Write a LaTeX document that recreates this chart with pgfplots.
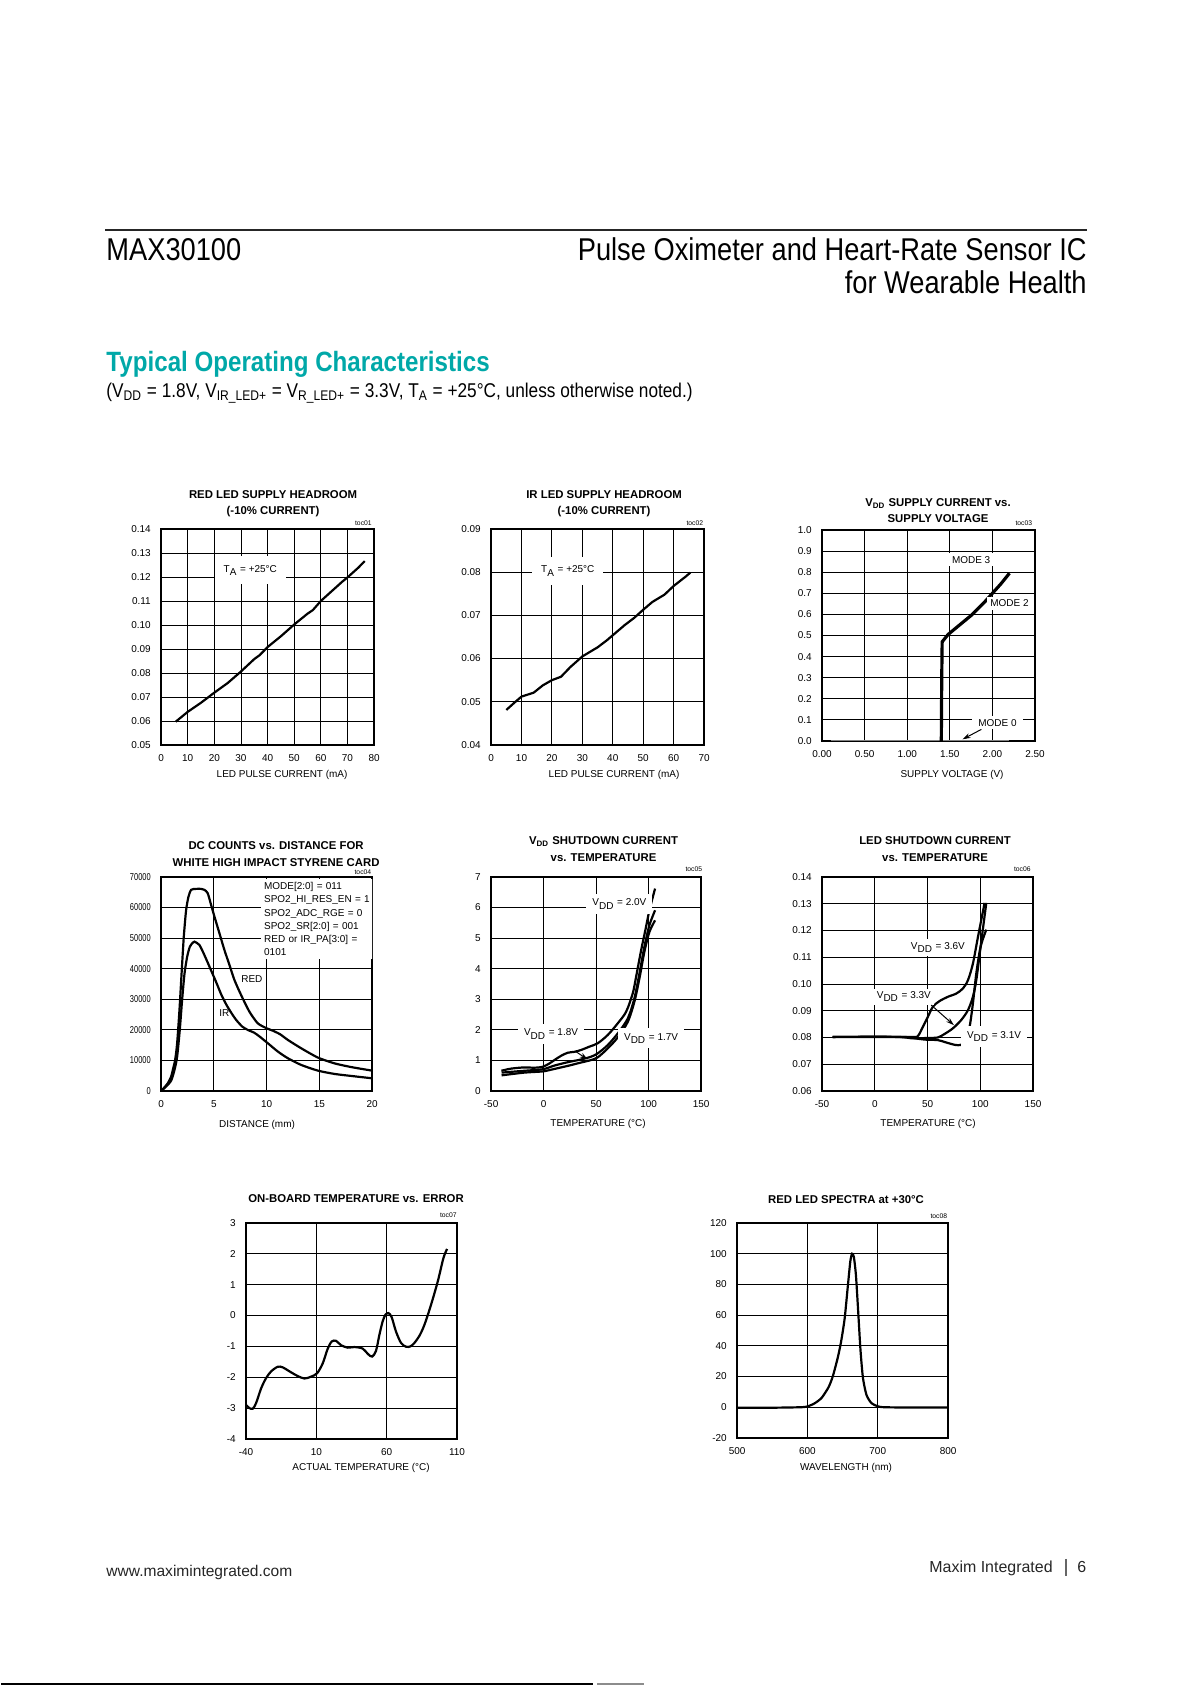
\documentclass[border=0pt]{standalone}
\usepackage{fontspec}
\setmainfont{Liberation Sans}
\newfontfamily\condf{Liberation Sans}[FakeStretch=0.865]
\newfontfamily\narrowf{Liberation Sans}[FakeStretch=0.75]
\usepackage{pgfplots}
\pgfplotsset{compat=1.18}
\usetikzlibrary{arrows.meta}
\definecolor{maxteal}{RGB}{0,168,168}
\newcommand{\fs}[2]{\fontsize{#1}{#2}\selectfont}
\newcommand{\ttl}{\fs{5.7}{8.2}\bfseries}
\newcommand{\sm}{\fs{5}{6}}
\newcommand{\tocf}{\fs{3.4}{4}}
\pgfplotsset{
  toc/.style={
    scale only axis,
    axis line style={line width=1.1pt},
    grid=major,
    major grid style={line width=0.45pt, black},
    major tick length=0pt,
    tick style={draw=none},
    tick label style={font=\sm},
    /pgf/number format/assume math mode=true,
    scaled ticks=false,
    yticklabel style={anchor=east, inner sep=0pt, xshift=-5pt},
    xticklabel style={anchor=north, inner sep=0pt, yshift=-4.6pt},
    cycle list={{black, mark=none, line width=1.1pt}},
    every axis plot/.append style={line width=1.1pt, black, mark=none},
  },
}
\tikzset{lab/.style={fill=white, inner xsep=3pt, inner ysep=2.5pt, font=\sm}}
\begin{document}
\begin{tikzpicture}
\fill[white] (0,0) rectangle (209.97mm,-297.07mm);
\begin{scope}[x=0.1763mm,y=-0.1763mm]
% header
\draw[line width=0.6pt, black!85] (104,230) -- (1086,230);
\node[anchor=base west, inner sep=0pt, font=\condf\fs{15.8}{18}] at (105,261) {MAX30100};
\node[anchor=base east, inner sep=0pt, font=\condf\fs{15.8}{18}] at (1086,261) {Pulse Oximeter and Heart-Rate Sensor IC};
\node[anchor=base east, inner sep=0pt, font=\condf\fs{15.8}{18}] at (1086,294) {for Wearable Health};
\node[anchor=base west, inner sep=0pt, font=\condf\fs{14}{16}\bfseries, text=maxteal] at (105,372) {Typical Operating Characteristics};
\node[anchor=base west, inner sep=0pt, font=\condf\fs{10}{12}] at (105,397.5) {(V\textsubscript{DD} = 1.8V, V\textsubscript{IR\_LED+} = V\textsubscript{R\_LED+} = 3.3V, T\textsubscript{A} = +25°C, unless otherwise noted.)};
% footer
\node[anchor=base west, inner sep=0pt, font=\fs{7.8}{10}, text=black!85] at (105,1576.5) {www.maximintegrated.com};
\node[anchor=base east, inner sep=0pt, font=\fs{8}{10}, text=black!85] at (1052,1573) {Maxim Integrated};
\draw[black!60, line width=0.6pt] (1065,1559) -- (1065,1576);
\node[anchor=base west, inner sep=0pt, font=\fs{8}{10}, text=black!85] at (1076,1572.5) {6};
\draw[line width=1.1pt, black] (0,1684) -- (592,1684);
\draw[line width=1.1pt, black!45] (596,1684) -- (643,1684);
% chart titles
\node[align=center, font=\ttl] at (272,503.5) {RED LED SUPPLY HEADROOM\\(-10\% CURRENT)};
\node[align=center, font=\ttl] at (603,503.5) {IR LED SUPPLY HEADROOM\\(-10\% CURRENT)};
\node[align=center, font=\ttl] at (937,510.5) {V\textsubscript{DD} SUPPLY CURRENT vs.\\SUPPLY VOLTAGE};
\node[align=center, font=\ttl] at (275,854) {DC COUNTS vs. DISTANCE FOR\\WHITE HIGH IMPACT STYRENE CARD};
\node[align=center, font=\ttl] at (602.5,849) {V\textsubscript{DD} SHUTDOWN CURRENT\\vs. TEMPERATURE};
\node[align=center, font=\ttl] at (934,849) {LED SHUTDOWN CURRENT\\vs. TEMPERATURE};
\node[align=center, font=\ttl] at (355,1199) {ON-BOARD TEMPERATURE vs. ERROR};
\node[align=center, font=\ttl] at (845,1200) {RED LED SPECTRA at +30°C};
% toc labels
\node[anchor=east, inner sep=0pt, font=\tocf] at (371,523) {toc01};
\node[anchor=east, inner sep=0pt, font=\tocf] at (702.5,523) {toc02};
\node[anchor=east, inner sep=0pt, font=\tocf] at (1031.5,523) {toc03};
\node[anchor=east, inner sep=0pt, font=\tocf] at (370.5,872) {toc04};
\node[anchor=east, inner sep=0pt, font=\tocf] at (701.5,869) {toc05};
\node[anchor=east, inner sep=0pt, font=\tocf] at (1030,869) {toc06};
\node[anchor=east, inner sep=0pt, font=\tocf] at (456,1215) {toc07};
\node[anchor=east, inner sep=0pt, font=\tocf] at (946.5,1216) {toc08};
% axis labels
\node[font=\sm] at (281,775) {LED PULSE CURRENT (mA)};
\node[font=\sm] at (613,775) {LED PULSE CURRENT (mA)};
\node[font=\sm] at (951,775) {SUPPLY VOLTAGE (V)};
\node[font=\sm] at (256,1125) {DISTANCE (mm)};
\node[font=\sm] at (597,1124) {TEMPERATURE (°C)};
\node[font=\sm] at (927,1124) {TEMPERATURE (°C)};
\node[font=\sm] at (360,1468) {ACTUAL TEMPERATURE (°C)};
\node[font=\sm] at (845,1468) {WAVELENGTH (nm)};
\end{scope}

% ---------- toc01
\begin{axis}[toc, at={(28.21mm,-131.34mm)}, anchor=south west, width=37.55mm, height=38.08mm,
  xmin=0, xmax=80, xtick={0,10,...,80},
  ymin=0.05, ymax=0.14, ytick={0.05,0.06,0.07,0.08,0.09,0.10,0.11,0.12,0.13,0.14},
  yticklabel style={/pgf/number format/.cd, fixed, fixed zerofill, precision=2}]
\addplot[black, mark=none, line width=1.1pt] coordinates {(5.5,0.0597) (10,0.0638) (15,0.0676) (20,0.0718) (25,0.0758) (30,0.0806) (35,0.0858) (37,0.0874) (40,0.0908) (45,0.0953) (50,0.1002) (55,0.1047) (57,0.1062) (60,0.1100) (65,0.1150) (68,0.1180) (70,0.1198) (74,0.1238) (76.5,0.1266)};
\node[lab, inner xsep=4.5pt, inner ysep=4.5pt] at (axis cs:33.5,0.1228) {T\textsubscript{A} = +25°C};
\end{axis}

% ---------- toc02
\begin{axis}[toc, at={(86.39mm,-131.34mm)}, anchor=south west, width=37.55mm, height=38.08mm,
  xmin=0, xmax=70, xtick={0,10,...,70},
  ymin=0.04, ymax=0.09, ytick={0.04,0.05,0.06,0.07,0.08,0.09},
  yticklabel style={/pgf/number format/.cd, fixed, fixed zerofill, precision=2}]
\addplot[black, mark=none, line width=1.1pt] coordinates {(5,0.0481) (8,0.0500) (10,0.0512) (14,0.0521) (17,0.0538) (20,0.0550) (23,0.0558) (26,0.0580) (30,0.0605) (35,0.0626) (38,0.0642) (41,0.0660) (44,0.0678) (47,0.0694) (50,0.0713) (53,0.0731) (57,0.0748) (60,0.0768) (62,0.0779) (64,0.0790) (65.5,0.0799)};
\node[lab, inner xsep=4.5pt, inner ysep=4.5pt] at (axis cs:25.2,0.0803) {T\textsubscript{A} = +25°C};
\end{axis}

% ---------- toc03
\begin{axis}[toc, at={(144.74mm,-130.64mm)}, anchor=south west, width=37.55mm, height=37.20mm,
  xmin=0, xmax=2.5, xtick={0,0.5,1,1.5,2,2.5},
  ymin=0, ymax=1, ytick={0,0.1,0.2,0.3,0.4,0.5,0.6,0.7,0.8,0.9,1.0},
  xticklabel style={/pgf/number format/.cd, fixed, fixed zerofill, precision=2},
  yticklabel style={/pgf/number format/.cd, fixed, fixed zerofill, precision=1}]
\addplot[gray, line width=0.6pt] coordinates {(0.1,0.003) (2.2,0.003)};
\addplot[black, line width=1.6pt] coordinates {(1.40,0) (1.405,0.30) (1.41,0.47) (1.48,0.505) (1.6,0.545) (1.75,0.595) (1.9,0.655) (2.0,0.70) (2.1,0.745) (2.2,0.795)};
\node[lab, inner sep=1.5pt] at (axis cs:1.75,0.858) {MODE 3};
\node[lab, inner sep=1.5pt] at (axis cs:2.2,0.652) {MODE 2};
\node[lab, inner xsep=3pt, inner ysep=1.5pt] at (axis cs:2.06,0.087) {MODE 0};
\draw[line width=0.5pt, -{Stealth[length=4pt,width=2.5pt]}] (axis cs:1.87,0.055) -- (axis cs:1.65,0.008);
\end{axis}

% ---------- toc04
\begin{axis}[toc, at={(28.21mm,-192.34mm)}, anchor=south west, width=37.20mm, height=37.73mm,
  xmin=0, xmax=20, xtick={0,5,...,20},
  ymin=0, ymax=70000, ytick={0,10000,...,70000},
  yticklabel style={font=\narrowf\fs{5}{6}, /pgf/number format/1000 sep={}}]
\addplot[black, smooth, tension=0.4] coordinates {(0,0) (0.32,1197) (0.63,2504) (0.95,4681) (1.11,6858) (1.33,10124) (1.52,15567) (1.74,26453) (1.96,39517) (2.15,50403) (2.37,59112) (2.59,63467) (2.85,65800) (3.32,66100) (3.80,66100) (4.1,65800) (4.42,64670) (4.74,60840) (5.06,57000) (5.53,51580) (6.0,46120) (6.48,41210) (6.95,36310) (7.58,31400) (8.37,25940) (9.16,22140) (10.0,20500) (10.6,19700) (11.3,18500) (12.03,16656) (13.29,13934) (14.87,10900) (16.46,9000) (18.04,7800) (20,6640)};
\addplot[black, smooth, tension=0.4] coordinates {(0,0) (0.47,1415) (0.95,3375) (1.27,6858) (1.52,11212) (1.77,19921) (1.99,29719) (2.22,38428) (2.47,43871) (2.72,47137) (3.0,48500) (3.16,48840) (3.63,47760) (4.1,44490) (4.65,40130) (5.2,35750) (5.72,31400) (6.2,28130) (6.68,25420) (7.12,23220) (7.7,21030) (8.25,19900) (8.8,19100) (9.3,17900) (10.13,15567) (11.08,12846) (12.03,10668) (13.29,8491) (14.87,6640) (16.46,5552) (18.04,4899) (20,4137)};
\node[anchor=north west, fill=white, inner xsep=1.5pt, inner ysep=1.5pt, align=left, text width=55pt, font=\fs{5}{6.6}] at (axis cs:9.45,69300) {MODE[2:0] = 011\\SPO2\_HI\_RES\_EN = 1\\SPO2\_ADC\_RGE = 0\\SPO2\_SR[2:0] = 001\\RED or IR\_PA[3:0] =\\0101};
\node[font=\sm] at (axis cs:8.6,36640) {RED};
\node[font=\sm] at (axis cs:6.0,25400) {IR};
\end{axis}

% ---------- toc05
\begin{axis}[toc, at={(86.39mm,-192.34mm)}, anchor=south west, width=37.02mm, height=37.73mm,
  xmin=-50, xmax=150, xtick={-50,0,...,150},
  ymin=0, ymax=7, ytick={0,1,...,7}]
\addplot[black, smooth, tension=0.5] coordinates {(-40.2,0.66) (-31,0.73) (-18.3,0.77) (-8.7,0.76) (-0.8,0.79) (5.6,0.9) (10.3,1.01) (16.7,1.15) (23,1.25) (29.4,1.28) (35.7,1.34) (43.7,1.45) (51.6,1.56) (61.1,1.83) (70.6,2.21) (78.6,2.59) (84.9,3.19) (88.1,3.73) (92.9,4.6) (97.6,5.37) (100.8,5.91) (106.2,6.62)};
\addplot[black, smooth, tension=0.5] coordinates {(-40,0.60) (-18.3,0.66) (-0.8,0.71) (10.3,0.83) (23,0.94) (35.7,1.03) (45.2,1.12) (51.6,1.23) (61.1,1.50) (70.6,1.88) (80.2,2.37) (86.5,3.03) (91.3,3.84) (96,4.71) (100.8,5.42) (106.2,5.91)};
\addplot[black, smooth, tension=0.5] coordinates {(-40,0.51) (-18.3,0.60) (-0.8,0.64) (10.3,0.72) (23,0.82) (35.7,0.93) (45.2,1.01) (51.6,1.10) (61.1,1.39) (70.6,1.75) (80.2,2.26) (86.5,2.92) (91.3,3.68) (96,4.55) (100.8,5.20) (106.2,5.58)};
\node[lab] at (axis cs:72.2,6.11) {V\textsubscript{DD} = 2.0V};
\node[lab] at (axis cs:7.1,1.86) {V\textsubscript{DD} = 1.8V};
\node[lab] at (axis cs:102.4,1.72) {V\textsubscript{DD} = 1.7V};
\draw[line width=0.5pt, -{Stealth[length=4pt,width=2.5pt]}] (axis cs:31,1.28) -- (axis cs:42,1.03);
\end{axis}

% ---------- toc06
\begin{axis}[toc, at={(144.74mm,-192.34mm)}, anchor=south west, width=37.20mm, height=37.73mm,
  xmin=-50, xmax=150, xtick={-50,0,...,150},
  ymin=0.06, ymax=0.14, ytick={0.06,0.07,0.08,0.09,0.10,0.11,0.12,0.13,0.14},
  yticklabel style={/pgf/number format/.cd, fixed, fixed zerofill, precision=2}]
\addplot[black, smooth, tension=0.5] coordinates {(-40,0.0802) (0,0.0802) (35,0.0802) (40.8,0.0805) (45.6,0.0840) (50.3,0.0877) (55.1,0.0915) (61.4,0.0936) (69.3,0.0952) (77.2,0.0964) (83.5,0.0983) (88.3,0.1014) (93,0.1076) (97.8,0.1176) (104.1,0.1303)};
\addplot[black, smooth, tension=0.5] coordinates {(-40,0.0802) (20,0.0802) (34.5,0.0797) (40.8,0.0797) (50.3,0.0798) (59.8,0.0800) (66.1,0.0813) (74,0.0834) (81.9,0.0865) (88.3,0.0902) (93,0.0952) (96.2,0.1014) (100.3,0.1139) (105.7,0.1303)};
\addplot[black, smooth, tension=0.5] coordinates {(-40,0.0802) (25,0.0802) (37.7,0.0797) (47.2,0.0792) (59.8,0.0790) (67,0.0782) (74,0.0774) (79,0.0771) (83,0.0775) (86.7,0.0795) (89.9,0.0840) (93,0.0927) (96.2,0.1039) (100.3,0.1139) (105.7,0.1203)};
\node[lab, inner sep=1.5pt] at (axis cs:59.8,0.1136) {V\textsubscript{DD} = 3.6V};
\node[lab, inner sep=1.5pt] at (axis cs:27.5,0.0952) {V\textsubscript{DD} = 3.3V};
\node[lab] at (axis cs:113,0.0803) {V\textsubscript{DD} = 3.1V};
\draw[line width=0.5pt, -{Stealth[length=4pt,width=2.5pt]}] (axis cs:53.5,0.0921) -- (axis cs:75,0.0846);
\end{axis}

% ---------- toc07
\begin{axis}[toc, at={(43.19mm,-253.70mm)}, anchor=south west, width=37.20mm, height=38.08mm,
  xmin=-40, xmax=110, xtick={-40,10,60,110},
  ymin=-4, ymax=3, ytick={-4,-3,...,3}]
\addplot[black, smooth, tension=0.5] coordinates {(-40,-2.9) (-37.6,-3.0) (-35.3,-3.02) (-32.9,-2.84) (-29.3,-2.36) (-25.8,-2.03) (-22.2,-1.81) (-17.5,-1.66) (-13.9,-1.68) (-8,-1.84) (-3.3,-1.96) (1.5,-2.04) (6.2,-1.98) (10.5,-1.87) (14.5,-1.55) (18,-1.08) (20.9,-0.84) (24,-0.82) (27.5,-0.96) (32.3,-1.04) (37,-1.02) (42.9,-1.07) (46.5,-1.24) (49.6,-1.33) (52.4,-1.14) (54.8,-0.62) (57.1,-0.19) (59,0.02) (61.2,0.08) (63.5,-0.05) (66.6,-0.52) (70.2,-0.89) (73.7,-1.01) (76.8,-1.0) (79.6,-0.89) (83.2,-0.66) (86.8,-0.30) (91.5,0.35) (96.3,1.11) (100.3,1.86) (102.9,2.16)};
\end{axis}

% ---------- toc08
\begin{axis}[toc, at={(129.76mm,-253.52mm)}, anchor=south west, width=37.20mm, height=37.90mm,
  xmin=500, xmax=800, xtick={500,600,700,800},
  ymin=-20, ymax=120, ytick={-20,0,...,120}]
\addplot[black, smooth, tension=0.4] coordinates {(500,-0.3) (550,-0.3) (590,0) (600,0.5) (610,2.5) (620,6) (630,13) (636,20) (643,32) (648,43) (653,58) (657.5,79) (661,95) (663.5,100) (666,98) (669,86) (672.5,60) (675.5,37) (679,19) (684,8) (691,2.7) (700,0.6) (710,0) (750,-0.2) (800,-0.2)};
\end{axis}
\end{tikzpicture}
\end{document}
